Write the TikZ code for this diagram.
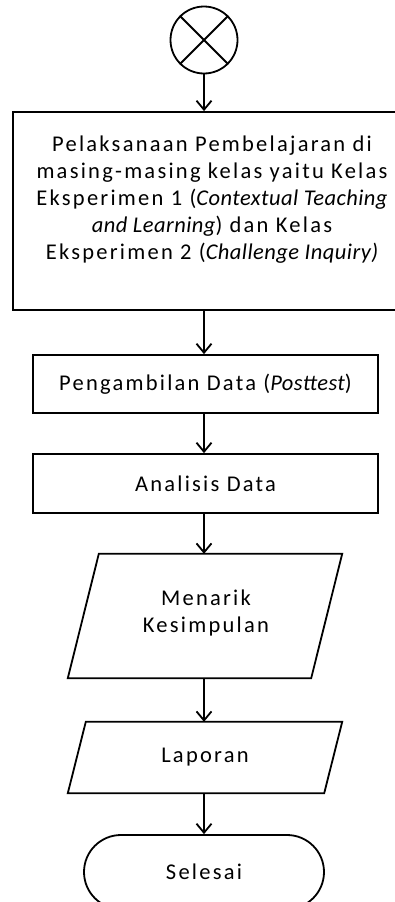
\documentclass[tikz,border=0pt]{standalone}
\usepackage{fontspec}
\setmainfont{Carlito}[LetterSpace=10]
\newfontfamily\itf{Carlito}[LetterSpace=2]
\usetikzlibrary{arrows.meta}
\newcommand{\ital}[1]{{\itf\itshape #1}}
\tikzset{
  every node/.style={font=\fontsize{22.5}{27}\selectfont},
  box/.style={draw, line width=1.8pt, rectangle, inner sep=0pt},
  blank/.style={inner sep=0pt, draw=none},
  txt/.style={align=center, inner sep=0pt},
  arr/.style={line width=1.8pt, -{Straight Barb[length=9pt,width=15pt,line width=1.8pt]}},
  shp/.style={line width=1.8pt, line join=miter}
}
\begin{document}
\begin{tikzpicture}[x=1pt,y=-1pt]
\useasboundingbox (0,0) rectangle (395,902);
\clip (0,0) rectangle (395,902);
% start circle
\node[draw, circle, line width=1.8pt, minimum size=67pt, inner sep=0pt] (start) at (204,40) {};
\draw[line width=1.8pt] (start.45) -- (start.225) (start.135) -- (start.315);
% big box
\node[box, minimum width=397pt, minimum height=198pt] (b1) at (211.5,211) {};
\node[txt] (b1t) at (212,200) {Pelaksanaan Pembelajaran di\\masing-masing kelas yaitu Kelas\\Eksperimen 1 (\ital{Contextual Teaching}\\\ital{and Learning}) dan Kelas\\Eksperimen 2 (\ital{Challenge Inquiry)}};
% box 2
\node[box, minimum width=345pt, minimum height=58pt] (b2) at (205.5,384) {Pengambilan Data (\ital{Posttest})};
% box 3
\node[box, minimum width=345pt, minimum height=59pt] (b3) at (205.5,483.5) {Analisis Data};
% parallelogram 1
\node[blank, minimum width=243pt, minimum height=124pt] (p1) at (205,616) {};
\draw[shp] ([xshift=15.5pt]p1.north west) -- ([xshift=15.5pt]p1.north east) -- ([xshift=-15.5pt]p1.south east) -- ([xshift=-15.5pt]p1.south west) -- cycle;
\node[txt] (p1t) at (206,613) {Menarik\\Kesimpulan};
% parallelogram 2
\node[blank, minimum width=256pt, minimum height=71pt] (p2) at (205,757.5) {Laporan};
\draw[shp] ([xshift=9pt]p2.north west) -- ([xshift=9pt]p2.north east) -- ([xshift=-9pt]p2.south east) -- ([xshift=-9pt]p2.south west) -- cycle;
% terminator
\node[draw, line width=1.8pt, rectangle, rounded corners=37pt, minimum width=240pt, minimum height=74pt, inner sep=0pt] (end) at (204,872) {Selesai};
% arrows
\draw[arr] (start.south) -- (start.south |- b1.north);
\draw[arr] (b1.south -| start) -- (b2.north -| start);
\draw[arr] (b2.south -| start) -- (b3.north -| start);
\draw[arr] (b3.south -| start) -- (p1.north -| start);
\draw[arr] (p1.south -| start) -- (p2.north -| start);
\draw[arr] (p2.south -| start) -- (end.north -| start);
\end{tikzpicture}
\end{document}
